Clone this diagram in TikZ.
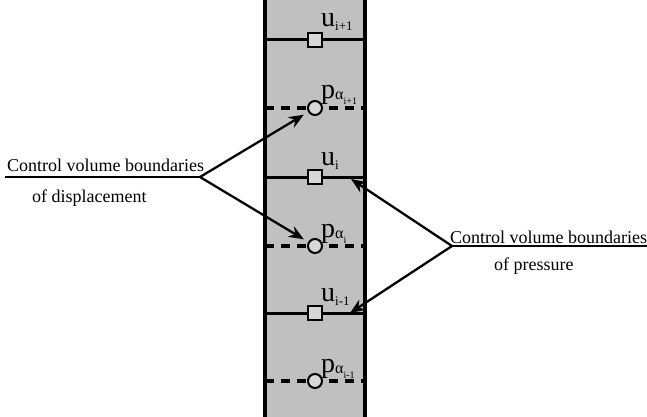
\documentclass[tikz,border=0pt]{standalone}
\usepackage{fontspec}
\setmainfont{Liberation Serif}
\usetikzlibrary{arrows.meta}
\definecolor{colgray}{RGB}{192,192,192}
\definecolor{markgray}{RGB}{216,216,216}
\begin{document}
\begin{tikzpicture}[x=1pt,y=-1pt,
 border/.style={line width=3.4pt},
 solidb/.style={line width=3pt},
 dashb/.style={line width=3.2pt, dash pattern=on 9pt off 7pt},
 sq/.style={draw, line width=2pt, fill=markgray, minimum size=14pt, inner sep=0pt},
 circ/.style={draw, circle, line width=2pt, fill=markgray, minimum size=14pt, inner sep=0pt},
 ptr/.style={line width=2.3pt, -{Stealth[length=15pt,width=12pt]}},
 txtline/.style={line width=2.8pt},
 lbl/.style={font=\fontsize{18}{20}\selectfont, inner sep=0pt, anchor=base west},
 sym/.style={inner sep=0pt, anchor=base west, font=\fontsize{28}{28}\selectfont}]
\useasboundingbox (0,0) rectangle (647,417);
% column
\fill[colgray] (265,0) rectangle (365,417);
\coordinate (colLT) at (265,0);
\coordinate (colLB) at (265,417);
\coordinate (colRT) at (365,0);
\coordinate (colRB) at (365,417);
% solid (displacement) lines
\foreach \n/\y in {a/40,b/177,c/313}{
  \coordinate (uL\n) at (265,\y);
  \coordinate (uR\n) at (365,\y);
  \draw[solidb] (uL\n) -- (uR\n);
}
% dashed (pressure) lines
\foreach \n/\y in {a/108,b/246,c/381}{
  \coordinate (pL\n) at (265,\y);
  \coordinate (pR\n) at (365,\y);
  \draw[dashb] (pL\n) -- (pR\n);
}
\draw[border] (colLT) -- (colLB);
\draw[border] (colRT) -- (colRB);
% markers
\node[sq] (sqa) at (315,40) {};
\node[sq] (sqb) at (315,177) {};
\node[sq] (sqc) at (315,313) {};
\node[circ] (cia) at (315,108) {};
\node[circ] (cib) at (315,246) {};
\node[circ] (cic) at (315,381) {};
% symbol labels
\node[sym] (ua) at (321,27) {u\raisebox{-4pt}{\fontsize{13}{13}\selectfont i+1}};
\node[sym] (ub) at (321,165) {u\raisebox{-4pt}{\fontsize{13}{13}\selectfont i}};
\node[sym] (uc) at (321,301) {u\raisebox{-4pt}{\fontsize{13}{13}\selectfont i-1}};
\node[sym] (pa) at (321,99) {p\raisebox{-1pt}{\fontsize{16}{16}\selectfont α\raisebox{-5pt}{\fontsize{10}{10}\selectfont i+1}}};
\node[sym] (pb) at (321,237) {p\raisebox{-1pt}{\fontsize{16}{16}\selectfont α\raisebox{-5pt}{\fontsize{10}{10}\selectfont i}}};
\node[sym] (pc) at (321,372) {p\raisebox{-1pt}{\fontsize{16}{16}\selectfont α\raisebox{-5pt}{\fontsize{10}{10}\selectfont i-1}}};
% left callout
\coordinate (dvL) at (5,177);
\coordinate (dv) at (200,177);
\draw[txtline] (dvL) -- (dv);
\node[lbl] (dvt1) at (7,171) {Control volume boundaries};
\node[lbl] (dvt2) at (32,202) {of displacement};
\draw[ptr, shorten >=5pt] (dv) -- (cia);
\draw[ptr, shorten >=5pt] (dv) -- (cib);
% right callout
\coordinate (pv) at (452,246);
\coordinate (pvR) at (647,246);
\draw[txtline] (pv) -- (pvR);
\node[lbl] (pvt1) at (450,243) {Control volume boundaries};
\node[lbl] (pvt2) at (494,270) {of pressure};
\coordinate (tipb) at (351,179);
\coordinate (tipc) at (350,313);
\draw[ptr] (pv) -- (tipb);
\draw[ptr] (pv) -- (tipc);
\end{tikzpicture}
\end{document}
